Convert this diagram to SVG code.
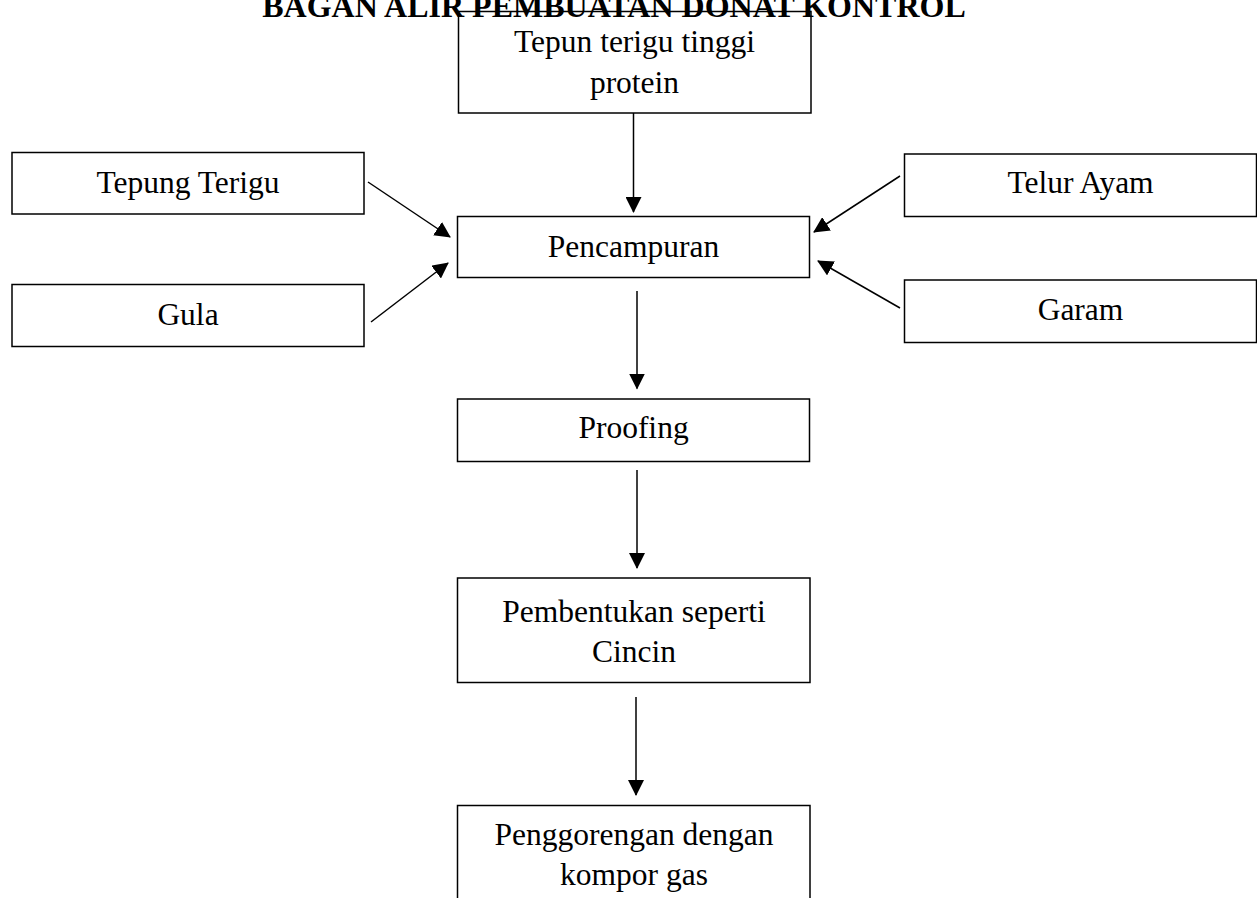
<svg xmlns="http://www.w3.org/2000/svg" width="1257" height="898" viewBox="0 0 1257 898">
<style>
.box{fill:#fff;stroke:#000;stroke-width:1.5}
.t{font-family:"Liberation Serif","Times New Roman",serif;font-size:31.5px;fill:#000;text-anchor:middle}
.title{font-family:"Liberation Serif","Times New Roman",serif;font-size:32px;font-weight:bold;fill:#000;text-anchor:middle}
.c{stroke:#000;stroke-width:1.5;fill:none;marker-end:url(#ah)}
</style>
<defs>
<marker id="ah" markerUnits="userSpaceOnUse" markerWidth="16" markerHeight="16" refX="15" refY="8" orient="auto">
<path d="M0,0 L16,8 L0,16 z" fill="#000"/>
</marker>
</defs>
<rect width="1257" height="898" fill="#fff"/>
<g id="n-tepun-tinggi"><rect class="box" x="458.5" y="11.5" width="352.5" height="101.5"/><text class="t" x="634.5" y="52">Tepun terigu tinggi</text><text class="t" x="634.5" y="93">protein</text></g>
<g id="n-tepung-terigu"><rect class="box" x="12" y="152.5" width="352" height="61.5"/><text class="t" x="188" y="193">Tepung Terigu</text></g>
<g id="n-gula"><rect class="box" x="12" y="284.5" width="352" height="62"/><text class="t" x="188" y="325">Gula</text></g>
<g id="n-telur"><rect class="box" x="904.5" y="154" width="352" height="62.5"/><text class="t" x="1080.5" y="193">Telur Ayam</text></g>
<g id="n-garam"><rect class="box" x="904.5" y="280" width="352" height="62.5"/><text class="t" x="1080.5" y="320">Garam</text></g>
<g id="n-pencampuran"><rect class="box" x="457.5" y="216.5" width="352" height="61"/><text class="t" x="633.5" y="257">Pencampuran</text></g>
<g id="n-proofing"><rect class="box" x="457.5" y="399" width="352" height="62.5"/><text class="t" x="633.5" y="438">Proofing</text></g>
<g id="n-pembentukan"><rect class="box" x="457.5" y="578" width="352.5" height="104.5"/><text class="t" x="634" y="621.5">Pembentukan seperti</text><text class="t" x="634" y="662">Cincin</text></g>
<g id="n-penggorengan"><rect class="box" x="457.5" y="805.5" width="352.5" height="120"/><text class="t" x="634" y="845">Penggorengan dengan</text><text class="t" x="634" y="885">kompor gas</text></g>
<g id="connectors">
<line class="c" x1="633.5" y1="113" x2="633.5" y2="212"/>
<line class="c" x1="637" y1="291" x2="637" y2="388.5"/>
<line class="c" x1="637" y1="470" x2="637" y2="568"/>
<line class="c" x1="636" y1="697" x2="636" y2="795"/>
<line class="c" x1="368" y1="182" x2="450" y2="237"/>
<line class="c" x1="371" y1="322" x2="448" y2="263"/>
<line class="c" x1="900" y1="176" x2="814" y2="232"/>
<line class="c" x1="900" y1="308" x2="818" y2="261"/>
</g>
<text id="title" class="title" x="614" y="17">BAGAN ALIR PEMBUATAN DONAT KONTROL</text>
</svg>
